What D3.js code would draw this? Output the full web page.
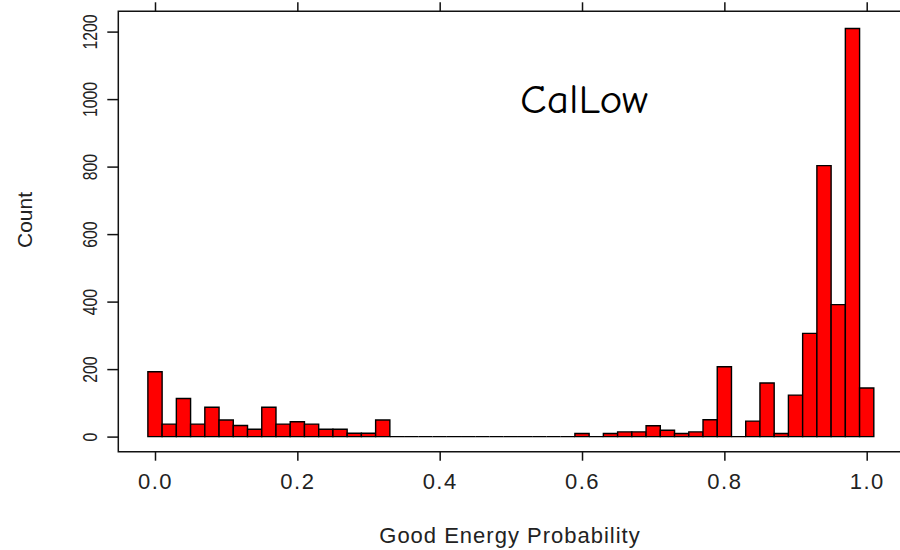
<!DOCTYPE html>
<html>
<head>
<meta charset="utf-8">
<script src="https://cdn.jsdelivr.net/npm/d3@7"></script>
<style>
  body { margin: 0; background: #fff; }
  svg text { fill: #111; }
</style>
</head>
<body>
<div id="chart"></div>
<script>
"use strict";

const binWidth = 0.02;
const counts = [
    192, 37, 113, 37, 87, 49, 33, 22, 87, 37, 44, 37, 22, 22, 10, 10, 49,
    0, 0, 0, 0, 0, 0, 0, 0, 0, 0, 0, 0, 0,
    9, 0, 9, 14, 14, 32, 19, 9, 14, 50, 207, 0, 46, 159, 9, 123, 306, 803, 391, 1209, 144
];
const xTicks = [0.0, 0.2, 0.4, 0.6, 0.8, 1.0];
const yTicks = [0, 200, 400, 600, 800, 1000, 1200];
const title = "CalLow";
const xTitle = "Good Energy Probability";
const yTitle = "Count";

const width = 900, height = 550;
const frame = { left: 118.3, top: 11.3, bottom: 451.7, right: 905 };

const svg = d3.select("#chart").append("svg")
    .attr("width", width)
    .attr("height", height);

// scales
const x = d3.scaleLinear().domain([0, 1]).range([155, 866.7]);
const y = d3.scaleLinear().domain([0, 1200]).range([436.6, 31.6]);

const bins = counts.map((c, i) => ({ x0: i * binWidth - binWidth / 2, x1: i * binWidth + binWidth / 2, count: c }));

// bars (paths so zero bins still show as a line)
svg.append("g")
    .selectAll("path")
    .data(bins)
    .enter()
    .append("path")
    .attr("d", d => {
        const a = x(d.x0), b = x(d.x1), y0 = y(0), y1 = y(d.count);
        return `M${a},${y0}V${y1}H${b}V${y0}Z`;
    })
    .style("fill", "#ff0000")
    .style("stroke", "#000")
    .style("stroke-width", 1.4)
    .style("stroke-linejoin", "miter");

// frame: left, top, bottom (right side runs off the picture)
svg.append("path")
    .attr("d", `M${frame.right},${frame.top}H${frame.left}V${frame.bottom}H${frame.right}`)
    .style("fill", "none")
    .style("stroke", "#111")
    .style("stroke-width", 1.5);

// bottom axis
const xAxis = svg.append("g")
    .attr("transform", `translate(0,${frame.bottom})`)
    .call(d3.axisBottom(x).tickValues(xTicks).tickFormat(d3.format(".1f")).tickSize(9).tickPadding(13));
xAxis.select(".domain").remove();
xAxis.selectAll("line").style("stroke", "#111").style("stroke-width", 1.5);
xAxis.selectAll("text")
    .style("font-family", "'Liberation Sans', Arial, sans-serif")
    .style("font-size", "22px")
    .style("letter-spacing", "1.5px")
    .style("fill", "#222");

// top ticks, no labels
const xTop = svg.append("g")
    .attr("transform", `translate(0,${frame.top})`)
    .call(d3.axisTop(x).tickValues(xTicks).tickFormat("").tickSize(9));
xTop.select(".domain").remove();
xTop.selectAll("line").style("stroke", "#111").style("stroke-width", 1.5);

// left axis with rotated, condensed labels
const yAxis = svg.append("g")
    .attr("transform", `translate(${frame.left},0)`)
    .call(d3.axisLeft(y).tickValues(yTicks).tickFormat(d3.format("d")).tickSize(11));
yAxis.select(".domain").remove();
yAxis.selectAll("line").style("stroke", "#111").style("stroke-width", 1.5);
yAxis.selectAll("text")
    .attr("x", null).attr("dy", null)
    .attr("transform", "translate(-21,0) rotate(-90) scale(0.75,1)")
    .attr("text-anchor", "middle")
    .style("font-family", "'Liberation Sans', Arial, sans-serif")
    .style("font-size", "21px")
    .style("fill", "#222");

// axis titles
svg.append("text")
    .attr("x", 510).attr("y", 543)
    .attr("text-anchor", "middle")
    .style("font-family", "'Liberation Sans', Arial, sans-serif")
    .style("font-size", "22px")
    .style("letter-spacing", "1px")
    .style("fill", "#222")
    .text(xTitle);

svg.append("text")
    .attr("transform", "translate(32,220) rotate(-90)")
    .attr("text-anchor", "middle")
    .style("font-family", "'Liberation Sans', Arial, sans-serif")
    .style("font-size", "21px")
    .style("fill", "#222")
    .text(yTitle);

// panel label
svg.append("text")
    .attr("x", 520).attr("y", 113)
    .attr("textLength", 128)
    .attr("lengthAdjust", "spacingAndGlyphs")
    .style("font-family", "'Comic Sans MS', 'Comic Neue', 'DejaVu Sans', sans-serif")
    .style("font-size", "40px")
    .style("fill", "#000")
    .text(title);
</script>
</body>
</html>
